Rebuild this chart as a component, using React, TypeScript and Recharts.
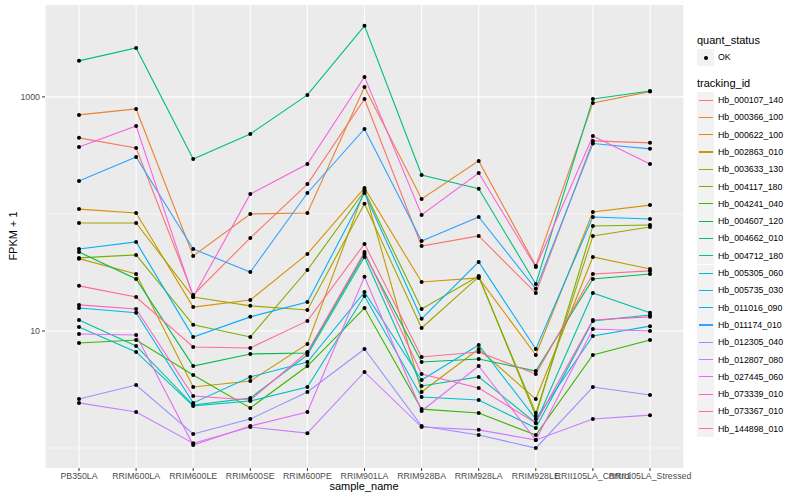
import React from "react";
import { LineChart, Line, XAxis, YAxis, CartesianGrid } from "recharts";

const samples = [
  "PB350LA", "RRIM600LA", "RRIM600LE", "RRIM600SE", "RRIM600PE", "RRIM901LA",
  "RRIM928BA", "RRIM928LA", "RRIM928LE", "RRII105LA_Control", "RRII105LA_Stressed",
];

const trackingIds = [
  "Hb_000107_140", "Hb_000366_100", "Hb_000622_100", "Hb_002863_010", "Hb_003633_130",
  "Hb_004117_180", "Hb_004241_040", "Hb_004607_120", "Hb_004662_010", "Hb_004712_180",
  "Hb_005305_060", "Hb_005735_030", "Hb_011016_090", "Hb_011174_010", "Hb_012305_040",
  "Hb_012807_080", "Hb_027445_060", "Hb_073339_010", "Hb_073367_010", "Hb_144898_010",
];

// ggplot hue palette, 20 levels
const colours = [
  "#F8766D", "#EA8331", "#D89000", "#C09B00", "#A3A500", "#7CAE00", "#39B600", "#00BB4E",
  "#00BF7D", "#00C1A3", "#00BFC4", "#00BAE0", "#00B0F6", "#35A2FF", "#9590FF", "#C77CFF",
  "#E76BF3", "#FA62DB", "#FF62BC", "#FF6C91",
];

// FPKM + 1, one value per sample
const hb000107_140 = [447, 366, 20.3, 62.4, 180, 961, 53.2, 64.9, 21.1, 421, 405];
const hb000366_100 = [702, 789, 43.8, 100, 102, 1217, 134, 284, 36.0, 889, 1110];
const hb000622_100 = [110, 102, 16.0, 18.4, 45.5, 167, 26.2, 28.4, 6.24, 104, 119];
const hb002863_010 = [41.5, 30.7, 3.32, 3.74, 7.74, 160, 3.01, 7.02, 2.62, 42.9, 33.9];
const hb003633_130 = [83.8, 83.8, 19.5, 16.4, 15.1, 122, 10.6, 29.0, 1.99, 64.9, 77.4];
const hb004117_180 = [42.1, 44.7, 11.3, 8.89, 33.2, 157, 15.4, 29.5, 1.88, 78.9, 80.5];
const hb004241_040 = [7.89, 8.38, 4.21, 2.2, 5.02, 15.7, 2.15, 1.99, 1.29, 6.24, 8.38];
const hb004607_120 = [47.3, 27.8, 5.02, 6.36, 6.49, 45.5, 5.43, 5.77, 4.55, 27.8, 30.7];
const hb004662_010 = [2032, 2624, 295, 483, 1040, 4046, 215, 164, 25.2, 961, 1125];
const hb004712_180 = [12.4, 7.45, 2.33, 2.67, 6.24, 42.9, 3.39, 4.05, 1.64, 21.1, 14.3];
const hb005305_060 = [10.8, 6.62, 2.29, 2.52, 3.32, 19.9, 2.73, 2.57, 1.48, 12.2, 13.7];
const hb005735_030 = [15.7, 14.3, 2.43, 4.05, 5.43, 21.5, 3.81, 7.59, 1.77, 9.06, 11.0];
const hb011016_090 = [50.2, 57.7, 8.89, 13.2, 17.7, 151, 12.7, 38.9, 7.02, 94.2, 90.6];
const hb011174_010 = [191, 307, 50.2, 31.9, 151, 532, 58.8, 94.2, 22.9, 400, 360];
const hb012305_040 = [2.62, 3.45, 1.32, 1.77, 3.01, 7.02, 1.54, 1.29, 1.0, 3.32, 2.84];
const hb012807_080 = [2.43, 2.03, 1.1, 1.51, 1.34, 4.47, 1.51, 1.43, 1.17, 1.77, 1.91];
const hb027445_060 = [9.42, 9.25, 1.06, 1.54, 2.03, 29.0, 2.07, 5.02, 1.17, 10.4, 10.0];
const hb073339_010 = [374, 565, 19.5, 148, 267, 1483, 98.0, 224, 35.2, 464, 267];
const hb073367_010 = [16.7, 15.4, 2.78, 2.57, 6.62, 47.3, 4.29, 3.26, 1.64, 12.4, 13.2];
const hb144898_010 = [24.3, 19.5, 7.3, 7.16, 12.2, 55.5, 6.0, 6.62, 4.29, 30.7, 32.6];

const seriesValues = [
  hb000107_140, hb000366_100, hb000622_100, hb002863_010, hb003633_130,
  hb004117_180, hb004241_040, hb004607_120, hb004662_010, hb004712_180,
  hb005305_060, hb005735_030, hb011016_090, hb011174_010, hb012305_040,
  hb012807_080, hb027445_060, hb073339_010, hb073367_010, hb144898_010,
];

const yTicks = [10, 1000];
const yMinor = [1, 100];

const data = samples.map((sample, i) => {
  const row: Record<string, string | number> = { sample };
  trackingIds.forEach((id, k) => {
    row[id] = seriesValues[k][i];
  });
  return row;
});

const FONT = "'Liberation Sans', Arial, Helvetica, sans-serif";

export default function App() {
  return (
    <div style={{ position: "absolute", left: 0, top: 0, width: 800, height: 500, background: "#fff", fontFamily: FONT }}>
      <LineChart
        width={800}
        height={500}
        data={data}
        margin={{ top: 5, right: 116, left: 8, bottom: 0 }}
      >
        <CartesianGrid
          fill="#EBEBEB"
          stroke="#FFFFFF"
          strokeWidth={0.55}
          vertical={false}
          horizontalValues={yMinor}
        />
        <CartesianGrid stroke="#FFFFFF" strokeWidth={1.1} horizontalValues={yTicks} />
        <XAxis
          dataKey="sample"
          height={32}
          interval={0}
          padding={{ left: 34, right: 34 }}
          axisLine={false}
          tickSize={3}
          tickMargin={2}
          tickLine={{ stroke: "#333333", strokeWidth: 1 }}
          tick={{ fill: "#4D4D4D", fontSize: 8.8, fontFamily: FONT }}
        />
        <YAxis
          type="number"
          scale="log"
          domain={[0.675, 6100]}
          allowDataOverflow
          ticks={yTicks}
          width={37}
          axisLine={false}
          tickSize={3}
          tickMargin={2}
          tickLine={{ stroke: "#333333", strokeWidth: 1 }}
          tick={{ fill: "#4D4D4D", fontSize: 8.8, fontFamily: FONT }}
          tickFormatter={(v: number) => String(v)}
        />
        {trackingIds.map((id, k) => (
          <Line
            key={id}
            dataKey={id}
            stroke={colours[k]}
            strokeWidth={1.1}
            dot={false}
            activeDot={false}
            isAnimationActive={false}
          />
        ))}
        {trackingIds.map((id) => (
          <Line
            key={"pt-" + id}
            dataKey={id}
            stroke="none"
            dot={{ r: 2, fill: "#000000", stroke: "none" }}
            activeDot={false}
            legendType="none"
            isAnimationActive={false}
          />
        ))}
      </LineChart>

      {/* axis titles */}
      <div style={{ position: "absolute", left: 264, width: 200, top: 480, textAlign: "center", fontSize: 11, color: "#000" }}>
        sample_name
      </div>
      <div
        style={{
          position: "absolute",
          left: 13 - 50,
          top: 237 - 7,
          width: 100,
          textAlign: "center",
          fontSize: 11,
          color: "#000",
          transform: "rotate(-90deg)",
        }}
      >
        FPKM + 1
      </div>

      {/* legend */}
      <div style={{ position: "absolute", left: 697, top: 34, fontSize: 11, color: "#000", lineHeight: "13px" }}>
        quant_status
      </div>
      <div style={{ position: "absolute", left: 697, top: 49, width: 17, height: 17, background: "#F2F2F2" }}>
        <div style={{ position: "absolute", left: 6.5, top: 6.5, width: 4, height: 4, borderRadius: 2, background: "#000" }} />
      </div>
      <div style={{ position: "absolute", left: 718, top: 51, fontSize: 8.8, color: "#000", lineHeight: "12px" }}>OK</div>

      <div style={{ position: "absolute", left: 697, top: 77, fontSize: 11, color: "#000", lineHeight: "13px" }}>
        tracking_id
      </div>
      {trackingIds.map((id, k) => (
        <div key={id} style={{ position: "absolute", left: 697, top: 91.5 + k * 17.3, height: 17.3, width: 100 }}>
          <div style={{ position: "absolute", left: 0, top: 0, width: 17, height: 17.3, background: "#F2F2F2" }}>
            <div style={{ position: "absolute", left: 1.5, top: 8, width: 14, height: 1.2, background: colours[k] }} />
          </div>
          <div style={{ position: "absolute", left: 21, top: 2.5, fontSize: 8.8, color: "#000", lineHeight: "12px", whiteSpace: "nowrap" }}>
            {id}
          </div>
        </div>
      ))}
    </div>
  );
}
